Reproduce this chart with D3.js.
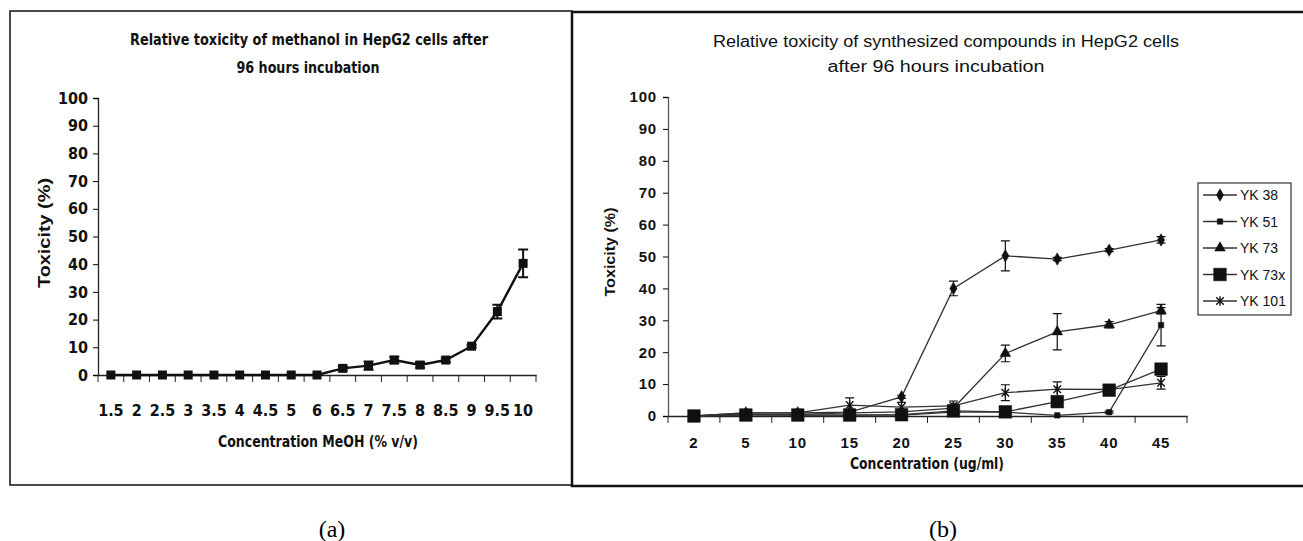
<!DOCTYPE html>
<html>
<head>
<meta charset="utf-8">
<script src="https://cdn.jsdelivr.net/npm/d3@7"></script>
<style>
  body { margin: 0; background: #fff; }
  svg { display: block; }
  .narrow { font-family: "Liberation Sans Narrow", "DejaVu Sans Condensed", "Liberation Sans", sans-serif; font-weight: bold; }
  .sans { font-family: "Liberation Sans", Arial, sans-serif; }
</style>
</head>
<body>
<svg id="chart" width="1303" height="541"></svg>
<script>
// 数据 - 图 (a)
const concA = ["1.5", "2", "2.5", "3", "3.5", "4", "4.5", "5", "6", "6.5", "7", "7.5", "8", "8.5", "9", "9.5", "10"];
const toxA = [0, 0, 0, 0, 0, 0, 0, 0, 0, 2.4, 3.4, 5.4, 3.6, 5.4, 10.4, 22.9, 40.3];
const errA = [0, 0, 0, 0, 0, 0, 0, 0, 0, 0.8, 1.5, 1.2, 1, 0.8, 0.5, 2.5, 5];

// 数据 - 图 (b)
const concB = ["2", "5", "10", "15", "20", "25", "30", "35", "40", "45"];
const seriesNames = ["YK 38", "YK 51", "YK 73", "YK 73x", "YK 101"];
const yk38 = [0, 1, 1, 1.2, 6, 40, 50.2, 49.2, 52, 55.2];
const yk38Err = [0, 0.3, 0.3, 0.5, 0.5, 2.3, 4.7, 0.5, 0.5, 1];
const yk51 = [0, 0.5, 0.3, 0.3, 0.3, 1.2, 1.2, 0.2, 1.2, 28.5];
const yk51Err = [0, 0, 0, 0, 0, 0.5, 0.5, 0, 0.3, 6.5];
const yk73 = [0, 0.5, 0.5, 1, 1.3, 2.5, 19.6, 26.4, 28.6, 33];
const yk73Err = [0, 0, 0, 0, 0.5, 1, 2.6, 5.7, 1, 1];
const yk73x = [0, 0.3, 0.3, 0.3, 0.4, 1.6, 1.3, 4.5, 8.1, 14.7];
const yk73xErr = [0, 0, 0, 0, 0, 0, 0, 0, 0, 0];
const yk101 = [0, 1, 1, 3.4, 2.8, 3.2, 7.3, 8.4, 8.3, 10.4];
const yk101Err = [0, 0.5, 0.5, 2.3, 1.5, 1.5, 2.5, 2.3, 0.5, 2];
const yTicks = [0, 10, 20, 30, 40, 50, 60, 70, 80, 90, 100];

const svg = d3.select("#chart");

// 星号符号
const symbolAsterisk = {
    draw(ctx, size) {
        const r = Math.sqrt(size) / 2;
        const d = r * 0.8;
        ctx.moveTo(-d, -d); ctx.lineTo(d, d);
        ctx.moveTo(-d, d); ctx.lineTo(d, -d);
        ctx.moveTo(0, -r); ctx.lineTo(0, r);
    }
};

// 边框
svg.append("rect").attr("x", 10).attr("y", 11).attr("width", 562).attr("height", 474)
    .attr("fill", "none").attr("stroke", "#111").attr("stroke-width", 1.5);
svg.append("rect").attr("x", 572).attr("y", 12).attr("width", 760).attr("height", 474)
    .attr("fill", "none").attr("stroke", "#111").attr("stroke-width", 2.5);

// 误差线
function errorBars(g, x, y, cats, vals, errs, cap, width) {
    const data = cats.map((c, i) => ({ c, v: vals[i], e: errs[i] })).filter(d => d.e > 0);
    const cx = d => x(d.c) + x.bandwidth() / 2;
    g.selectAll(null).data(data).enter().append("path")
        .attr("d", d => `M${cx(d)},${y(d.v - d.e)}V${y(d.v + d.e)}` +
            `M${cx(d) - cap},${y(d.v + d.e)}h${cap * 2}M${cx(d) - cap},${y(d.v - d.e)}h${cap * 2}`)
        .attr("fill", "none").attr("stroke", "#111").attr("stroke-width", width);
}

// ===== 图 (a) =====
{
    const x = d3.scaleBand().domain(concA).range([98, 536]);
    const y = d3.scaleLinear().domain([0, 100]).range([375, 98]);
    const g = svg.append("g");

    g.append("g").attr("transform", "translate(98,0)")
        .call(d3.axisLeft(y).tickValues(yTicks).tickSize(5).tickPadding(5))
        .call(a => a.select(".domain").attr("stroke", "#222").attr("stroke-width", 1.3))
        .call(a => a.selectAll("text").attr("class", "narrow").attr("font-size", 16).attr("fill", "#111"));

    g.append("g").attr("transform", "translate(0,375)")
        .call(d3.axisBottom(x).tickSize(0).tickPadding(30))
        .call(a => a.select(".domain").attr("stroke", "#222").attr("stroke-width", 1.3))
        .call(a => a.selectAll("text").attr("class", "narrow").attr("font-size", 16).attr("fill", "#111"));
    // 类别边界刻度
    g.append("g").selectAll("line").data(concA.concat([null])).enter().append("line")
        .attr("x1", d => d === null ? x.range()[1] : x(d))
        .attr("x2", d => d === null ? x.range()[1] : x(d))
        .attr("y1", 375).attr("y2", 382).attr("stroke", "#222").attr("stroke-width", 1);

    const cx = c => x(c) + x.bandwidth() / 2;
    g.append("path").datum(toxA)
        .attr("d", d3.line().x((d, i) => cx(concA[i])).y(d => y(d)))
        .attr("fill", "none").attr("stroke", "#111").attr("stroke-width", 2.4);
    errorBars(g, x, y, concA, toxA, errA, 5, 2);
    g.selectAll(null).data(toxA).enter().append("rect")
        .attr("x", (d, i) => cx(concA[i]) - 4.5).attr("y", d => y(d) - 4.5)
        .attr("width", 9).attr("height", 9).attr("fill", "#111");

    g.append("text").attr("class", "narrow").attr("x", 309).attr("y", 45).attr("text-anchor", "middle")
        .attr("font-size", 16).attr("fill", "#111").attr("textLength", 358).attr("lengthAdjust", "spacingAndGlyphs")
        .text("Relative toxicity of methanol in HepG2 cells after");
    g.append("text").attr("class", "narrow").attr("x", 308).attr("y", 73).attr("text-anchor", "middle")
        .attr("font-size", 16).attr("fill", "#111").attr("textLength", 143).attr("lengthAdjust", "spacingAndGlyphs")
        .text("96 hours incubation");
    g.append("text").attr("class", "narrow").attr("x", 318).attr("y", 447).attr("text-anchor", "middle")
        .attr("font-size", 16).attr("fill", "#111").attr("textLength", 200).attr("lengthAdjust", "spacingAndGlyphs")
        .text("Concentration MeOH (% v/v)");
    g.append("text").attr("class", "sans").attr("font-weight", "bold")
        .attr("transform", "translate(50,233) rotate(-90)").attr("text-anchor", "middle")
        .attr("font-size", 17).attr("fill", "#111").attr("textLength", 110).attr("lengthAdjust", "spacingAndGlyphs")
        .text("Toxicity (%)");
}

// ===== 图 (b) =====
{
    const x = d3.scaleBand().domain(concB).range([668, 1187]);
    const y = d3.scaleLinear().domain([0, 100]).range([416, 97]);
    const g = svg.append("g");

    g.append("g").attr("transform", "translate(668,0)")
        .call(d3.axisLeft(y).tickValues(yTicks).tickSize(5).tickPadding(6))
        .call(a => a.select(".domain").attr("stroke", "#555").attr("stroke-width", 1.3))
        .call(a => a.selectAll("text").attr("class", "sans").attr("font-weight", "bold")
            .attr("font-size", 15).attr("letter-spacing", 0.8).attr("fill", "#111"));

    g.append("g").attr("transform", "translate(0,416)")
        .call(d3.axisBottom(x).tickSize(0).tickPadding(21))
        .call(a => a.select(".domain").attr("stroke", "#222").attr("stroke-width", 1.5))
        .call(a => a.selectAll("text").attr("class", "sans").attr("font-weight", "bold")
            .attr("font-size", 15).attr("letter-spacing", 0.8).attr("fill", "#111"));
    g.append("g").selectAll("line").data(concB.concat([null])).enter().append("line")
        .attr("x1", d => d === null ? x.range()[1] : x(d))
        .attr("x2", d => d === null ? x.range()[1] : x(d))
        .attr("y1", 416).attr("y2", 423).attr("stroke", "#222").attr("stroke-width", 1);

    const series = [
        { name: seriesNames[0], vals: yk38, errs: yk38Err, type: d3.symbolDiamond, size: 45 },
        { name: seriesNames[1], vals: yk51, errs: yk51Err, type: d3.symbolSquare, size: 30 },
        { name: seriesNames[2], vals: yk73, errs: yk73Err, type: d3.symbolTriangle, size: 50 },
        { name: seriesNames[3], vals: yk73x, errs: yk73xErr, type: d3.symbolSquare, size: 160 },
        { name: seriesNames[4], vals: yk101, errs: yk101Err, type: symbolAsterisk, size: 90 }
    ];
    const cx = c => x(c) + x.bandwidth() / 2;

    series.forEach(s => {
        g.append("path").datum(s.vals)
            .attr("d", d3.line().x((d, i) => cx(concB[i])).y(d => y(d)))
            .attr("fill", "none").attr("stroke", "#333").attr("stroke-width", 1.3);
    });
    series.forEach(s => errorBars(g, x, y, concB, s.vals, s.errs, 4.5, 1.2));
    series.forEach(s => {
        const sym = d3.symbol().type(s.type).size(s.size);
        g.selectAll(null).data(s.vals).enter().append("path")
            .attr("transform", (d, i) => `translate(${cx(concB[i])},${y(d)})`)
            .attr("d", sym)
            .attr("fill", s.type === symbolAsterisk ? "none" : "#111")
            .attr("stroke", "#111").attr("stroke-width", s.type === symbolAsterisk ? 1.4 : 0.5);
    });

    // 图例
    const lg = g.append("g");
    lg.append("rect").attr("x", 1198).attr("y", 183).attr("width", 93).attr("height", 132)
        .attr("fill", "#fff").attr("stroke", "#333").attr("stroke-width", 1.2);
    const ly = d3.scalePoint().domain(seriesNames).range([195, 301]);
    series.forEach(s => {
        const yy = ly(s.name);
        lg.append("line").attr("x1", 1203).attr("x2", 1237).attr("y1", yy).attr("y2", yy)
            .attr("stroke", "#333").attr("stroke-width", 1.3);
        lg.append("path").attr("transform", `translate(1220,${yy})`)
            .attr("d", d3.symbol().type(s.type).size(s.size))
            .attr("fill", s.type === symbolAsterisk ? "none" : "#111")
            .attr("stroke", "#111").attr("stroke-width", s.type === symbolAsterisk ? 1.4 : 0.5);
        lg.append("text").attr("class", "sans").attr("x", 1240).attr("y", yy + 5)
            .attr("font-size", 14).attr("fill", "#111").text(s.name);
    });

    g.append("text").attr("class", "sans").attr("x", 946).attr("y", 47).attr("text-anchor", "middle")
        .attr("font-size", 16).attr("fill", "#111").attr("textLength", 466).attr("lengthAdjust", "spacingAndGlyphs")
        .text("Relative toxicity of synthesized compounds in HepG2 cells");
    g.append("text").attr("class", "sans").attr("x", 936).attr("y", 72).attr("text-anchor", "middle")
        .attr("font-size", 16).attr("fill", "#111").attr("textLength", 217).attr("lengthAdjust", "spacingAndGlyphs")
        .text("after 96 hours incubation");
    g.append("text").attr("class", "narrow").attr("x", 927).attr("y", 469).attr("text-anchor", "middle")
        .attr("font-size", 16).attr("fill", "#111").attr("textLength", 154).attr("lengthAdjust", "spacingAndGlyphs")
        .text("Concentration (ug/ml)");
    g.append("text").attr("class", "sans").attr("font-weight", "bold")
        .attr("transform", "translate(615,252) rotate(-90)").attr("text-anchor", "middle")
        .attr("font-size", 14).attr("fill", "#111").attr("textLength", 89).attr("lengthAdjust", "spacingAndGlyphs")
        .text("Toxicity (%)");
}

// 面板标签
svg.append("text").attr("x", 332).attr("y", 537).attr("text-anchor", "middle")
    .attr("font-family", "Liberation Serif, Times New Roman, serif").attr("font-size", 24).attr("fill", "#000").text("(a)");
svg.append("text").attr("x", 943).attr("y", 537).attr("text-anchor", "middle")
    .attr("font-family", "Liberation Serif, Times New Roman, serif").attr("font-size", 24).attr("fill", "#000").text("(b)");
</script>
</body>
</html>
